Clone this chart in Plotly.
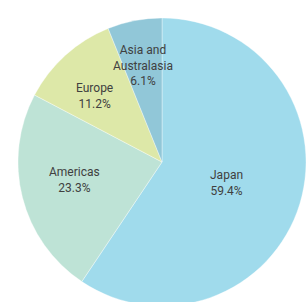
import math
import plotly.graph_objects as go

regions = ["Japan", "Americas", "Europe", "Asia and Australasia"]
label_text = ["Japan", "Americas", "Europe", "Asia and<br>Australasia"]
shares = [59.4, 23.3, 11.2, 6.1]
colors = ["#A0DBEC", "#BEE3D6", "#DDE8A8", "#91C7D8"]
# label placement style: fraction of radius, angular nudge (deg)
label_rfrac = [0.47, 0.62, 0.655, 0.68]
label_nudge = [1.3, 2.8, -3.3, -0.2]

W, H = 308, 310
cx, cy, R = 162, 162, 144  # pie centre & radius in pixels

fig = go.Figure(go.Pie(
    labels=regions,
    values=shares,
    sort=False,
    direction="clockwise",
    rotation=0,
    marker=dict(colors=colors, line=dict(color="rgba(255,255,255,0.6)", width=0.6)),
    textinfo="none",
    hoverinfo="skip",
    domain=dict(x=[(cx - R) / W, (cx + R) / W], y=[1 - (cy + R) / H, 1 - (cy - R) / H]),
    showlegend=False,
))

total = sum(shares)
cum = 0.0
annotations = []
for txt, v, rf, nd in zip(label_text, shares, label_rfrac, label_nudge):
    mid = (cum + v / 2) / total * 360 + nd
    cum += v
    a = math.radians(mid)
    px = cx + rf * R * math.sin(a)
    py = cy - rf * R * math.cos(a)
    annotations.append(dict(
        x=px / W, y=1 - py / H, xref="paper", yref="paper",
        text=f"{txt}<br>{v:.1f}%", showarrow=False,
        xanchor="center", yanchor="middle", align="center",
        font=dict(family="Roboto, Liberation Sans, sans-serif", size=12, color="#404040"),
    ))

fig.update_layout(
    width=W, height=H,
    margin=dict(l=0, r=0, t=0, b=0),
    paper_bgcolor="white",
    annotations=annotations,
)
fig.write_html("out.html", config={"displayModeBar": False},
               post_script="document.body.style.overflow='hidden';document.body.style.margin='0';")
